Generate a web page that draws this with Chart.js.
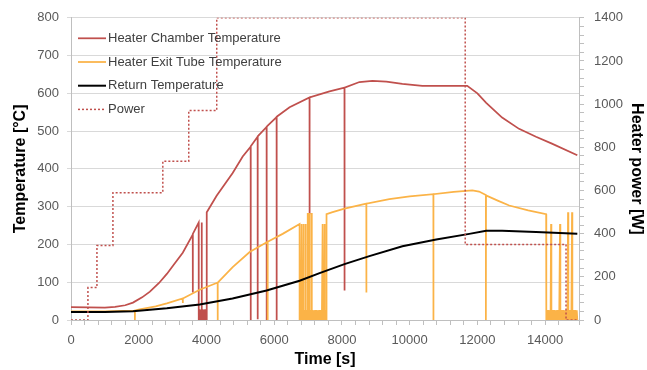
<!DOCTYPE html>
<html>
<head>
<meta charset="utf-8">
<script src="https://cdn.jsdelivr.net/npm/chart.js@4"></script>
<style>
  body { margin: 0; background: #fff; }
</style>
</head>
<body>
<canvas id="heater-chart" width="647" height="370"></canvas>
<script>
// HEATER CHAMBER TEMPERATURE (spikes / dropouts kept as drawn)
const chamberTime = [0, 1000, 1300, 1600, 1830, 2100, 2330, 2600, 2830, 3050, 3300, 3595, 3595, 3600, 3770,
    3772, 3790, 3810, 3830, 3850, 3860, 3862, 3880, 3900, 3920, 3940, 3960, 3980, 4000, 4008, 4008,
    4040, 4300, 4774, 5070,
    5305, 5305, 5310, 5511, 5511, 5515, 5776, 5776, 5780, 6071, 6071, 6075, 6454, 7043, 7043, 7048, 7633,
    8075, 8075, 8080, 8517, 8900, 9312, 9784, 10374, 11700, 12000, 12260, 12730, 13230, 13730, 14200, 14950];
const chamberTemp = [34, 33, 35, 39, 46, 60, 75, 98, 122, 148, 178, 226, 73, 228, 258,
    0, 28, 0, 28, 0, 258, 0, 28, 0, 28, 0, 28, 0, 28, 0, 285,
    290, 329, 389, 433,
    459, 0, 460, 485, 2, 486, 511, 0, 512, 537, 0, 538, 563, 589, 280, 589, 605,
    615, 78, 615, 630, 633, 631, 625, 620, 620, 600, 575, 536, 506, 485, 467, 436];

// HEATER EXIT TUBE TEMPERATURE, in four pieces
const exitEarlyTime = [0, 1000, 1500, 1886, 1886, 1890, 2030, 2500, 2830, 3300, 3300, 3305, 3800, 4300, 4330, 4330, 4335,
    4774, 5275, 5806, 5806, 5810, 6250, 6750];
const exitEarlyTemp = [23, 23, 24, 25, 0, 25, 28, 36, 44, 57, 45, 57, 80, 98, 99, 0, 99,
    140, 180, 207, 0, 207, 228, 254];

const exitBand1Time = [6750, 6770, 6790, 6810, 6810, 6830, 6850, 6870, 6870, 6890, 6910, 6930, 6930, 6950, 6970, 6990, 6990,
    7010, 7010, 7030, 7050, 7050, 7070, 7090, 7110, 7110, 7130, 7150, 7170, 7190, 7210, 7230, 7250, 7270, 7290, 7310,
    7330, 7350, 7370, 7390, 7410, 7430, 7430, 7450, 7470, 7490, 7490, 7510, 7530];
const exitBand1Temp = [0, 26, 0, 254, 0, 26, 0, 254, 0, 26, 0, 254, 0, 26, 0, 283, 0,
    283, 0, 26, 283, 0, 26, 0, 283, 0, 26, 0, 26, 0, 26, 0, 26, 0, 26, 0,
    26, 0, 26, 0, 26, 254, 0, 26, 0, 254, 0, 26, 0];

const exitMainTime = [7545, 7700, 8075, 8720, 8720, 8725, 9400, 10000, 10700, 10700, 10705, 11300, 11850, 12050,
    12250, 12250, 12255, 12600, 12940, 13500, 14030, 14030, 14035];
const exitMainTemp = [280, 285, 295, 308, 73, 308, 320, 327, 333, 0, 333, 339, 343, 340,
    331, 0, 330, 316, 303, 290, 280, 78, 275];

const exitBand2Time = [14040, 14060, 14080, 14100, 14120, 14140, 14160, 14175, 14175, 14195, 14215, 14235, 14255,
    14275, 14295, 14315, 14335, 14355, 14375, 14395, 14415, 14440, 14440, 14460, 14480, 14500, 14520, 14540, 14560,
    14580, 14600, 14620, 14640, 14660, 14676, 14676, 14696, 14716, 14736, 14756, 14776, 14794, 14794, 14814, 14834,
    14854, 14874, 14894, 14914, 14934, 14950];
const exitBand2Temp = [0, 26, 0, 26, 0, 26, 0, 254, 0, 26, 0, 26, 0,
    26, 0, 26, 0, 26, 0, 26, 0, 254, 0, 26, 0, 26, 0, 26, 0,
    26, 0, 26, 0, 26, 285, 0, 26, 0, 26, 0, 26, 285, 0, 26, 0,
    26, 0, 26, 0, 26, 0];

// RETURN TEMPERATURE
const returnTime = [0, 1000, 1830, 2830, 3800, 4770, 5775, 6750, 7340, 8075, 8810, 9785, 10785, 11760, 12260, 12730, 13730, 14950];
const returnTemp = [21, 21, 23, 31, 41, 57, 78, 104, 124, 148, 169, 195, 213, 228, 236, 236, 233, 228];

// HEATER POWER (value holds until the next time)
const powerTime = [0, 500, 766, 1238, 2711, 3477, 4303, 11640, 14617, 14950];
const powerWatt = [0, 150, 345, 590, 735, 970, 1400, 350, 0, 0];

const toPoints = (xs, ys) => xs.map((x, i) => ({x: x, y: ys[i]}));

const exitTime = exitEarlyTime.concat(exitBand1Time, exitMainTime, exitBand2Time);
const exitTemp = exitEarlyTemp.concat(exitBand1Temp, exitMainTemp, exitBand2Temp);

const FONT = '"Liberation Sans", Arial, sans-serif';
Chart.defaults.font.family = FONT;
Chart.defaults.color = '#595959';

// legend drawn inside the plot, top left
const insideLegend = {
    id: 'insideLegend',
    afterDatasetsDraw(chart) {
        const ctx = chart.ctx;
        const area = chart.chartArea;
        const x0 = area.left + 7;
        ctx.save();
        ctx.font = '13px ' + FONT;
        ctx.textBaseline = 'middle';
        chart.data.datasets.forEach(function(ds, i) {
            const y = area.top + 20.5 + i * 23.7;
            ctx.strokeStyle = ds.borderColor;
            ctx.lineWidth = ds.borderWidth;
            ctx.setLineDash(ds.borderDash || []);
            ctx.beginPath();
            ctx.moveTo(x0, y);
            ctx.lineTo(x0 + 28, y);
            ctx.stroke();
            ctx.setLineDash([]);
            ctx.fillStyle = '#404040';
            ctx.fillText(ds.label, x0 + 30, y);
        });
        ctx.restore();
    }
};

new Chart("heater-chart", {
    type: "line",
    data: {
        datasets: [
            {
                label: "Heater Chamber Temperature",
                data: toPoints(chamberTime, chamberTemp),
                borderColor: "#c0504d",
                borderWidth: 1.75,
                yAxisID: "yTemp",
                order: 4
            },
            {
                label: "Heater Exit Tube Temperature",
                data: toPoints(exitTime, exitTemp),
                borderColor: "#fbb347",
                borderWidth: 1.75,
                yAxisID: "yTemp",
                order: 3
            },
            {
                label: "Return Temperature",
                data: toPoints(returnTime, returnTemp),
                borderColor: "#000000",
                borderWidth: 2,
                yAxisID: "yTemp",
                order: 2
            },
            {
                label: "Power",
                data: toPoints(powerTime, powerWatt),
                borderColor: "#c0504d",
                borderWidth: 1.5,
                borderDash: [2, 2],
                stepped: "before",
                yAxisID: "yPower",
                order: 1
            }
        ]
    },
    options: {
        responsive: false,
        animation: false,
        layout: { padding: { top: 11, left: 0, right: 0, bottom: 0 } },
        elements: { point: { radius: 0 }, line: { tension: 0 } },
        plugins: { legend: { display: false }, tooltip: { enabled: false } },
        scales: {
            x: {
                type: "linear",
                min: 0,
                max: 15000,
                afterFit: function(scale) { scale.height = 50; },
                ticks: {
                    stepSize: 400,
                    autoSkip: false,
                    maxRotation: 0,
                    padding: 8,
                    font: { size: 13 },
                    callback: function(v) { return v % 2000 === 0 ? v : ""; }
                },
                grid: { drawOnChartArea: false, tickLength: 5, color: "#bfbfbf" },
                border: { color: "#bfbfbf" },
                title: {
                    display: true,
                    text: "Time [s]",
                    color: "#000",
                    font: { size: 16, weight: "bold" },
                    padding: { top: 0, bottom: 1 }
                }
            },
            yTemp: {
                type: "linear",
                position: "left",
                min: 0,
                max: 800,
                afterFit: function(scale) { scale.width = 71; },
                ticks: { stepSize: 100, padding: 8, font: { size: 13 } },
                grid: { color: "#d9d9d9", tickLength: 4 },
                border: { color: "#bfbfbf" },
                title: {
                    display: true,
                    text: "Temperature [°C]",
                    color: "#000",
                    font: { size: 16, weight: "bold" },
                    padding: { top: 11, bottom: 0 }
                }
            },
            yPower: {
                type: "linear",
                position: "right",
                min: 0,
                max: 1400,
                afterFit: function(scale) { scale.width = 68; },
                ticks: {
                    stepSize: 40,
                    autoSkip: false,
                    padding: 10,
                    font: { size: 13 },
                    callback: function(v) { return v % 200 === 0 ? v : ""; }
                },
                grid: { drawOnChartArea: false, tickLength: 5, color: "#bfbfbf" },
                border: { color: "#bfbfbf" },
                title: {
                    display: true,
                    text: "Heater power [W]",
                    color: "#000",
                    font: { size: 16, weight: "bold" },
                    padding: { top: 1, bottom: 0 }
                }
            }
        }
    },
    plugins: [insideLegend]
});
</script>
</body>
</html>
